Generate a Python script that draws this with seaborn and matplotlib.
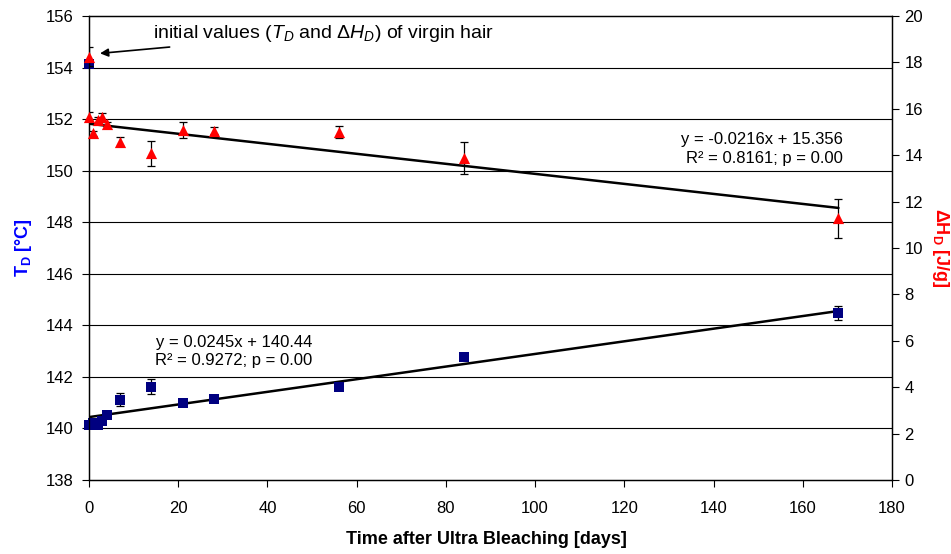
import numpy as np
import pandas as pd
import matplotlib
matplotlib.use("Agg")
import matplotlib.pyplot as plt
import seaborn as sns

# ---- data ----
days = [0, 1, 2, 3, 4, 7, 14, 21, 28, 56, 84, 168]
td_values = [140.15, 140.2, 140.15, 140.3, 140.52, 141.12, 141.62, 141.0, 141.15, 141.59, 142.78, 144.48]
td_errors = [0.05, 0.05, 0.05, 0.05, 0.06, 0.25, 0.3, 0.05, 0.05, 0.05, 0.12, 0.27]
dh_values = [15.66, 14.94, 15.52, 15.63, 15.34, 14.58, 14.08, 15.09, 15.06, 15.01, 13.87, 11.28]
dh_errors = [0.2, 0.1, 0.12, 0.2, 0.1, 0.2, 0.54, 0.35, 0.15, 0.27, 0.7, 0.83]
virgin_day = [0]
virgin_td = [154.15]
virgin_td_err = [0.05]
virgin_dh = [18.25]
virgin_dh_err = [0.4]
td_fit = [0.0245, 140.44]    # slope, intercept
dh_fit = [-0.0216, 15.356]
fit_x = [0, 168]
x_ticks = [0, 20, 40, 60, 80, 100, 120, 140, 160, 180]
td_ticks = [138, 140, 142, 144, 146, 148, 150, 152, 154, 156]
dh_ticks = [0, 2, 4, 6, 8, 10, 12, 14, 16, 18, 20]

sns.set_theme(style="ticks")
plt.rcParams['font.family'] = ['Liberation Sans', 'DejaVu Sans']
plt.rcParams['mathtext.fontset'] = 'custom'
plt.rcParams['mathtext.rm'] = 'Liberation Sans'
plt.rcParams['mathtext.it'] = 'Liberation Sans:italic'
plt.rcParams['mathtext.bf'] = 'Liberation Sans:bold'
plt.rcParams['text.color'] = 'black'
plt.rcParams['axes.labelcolor'] = 'black'

fig = plt.figure(figsize=(9.51, 5.54), dpi=100)
ax = fig.add_axes([89/951, 1-480/554, (892-89)/951, (480-16)/554])
ax2 = ax.twinx()

navy = '#000080'
red = '#FF0000'

# gridlines from left axis
for t in td_ticks[1:-1]:
    ax.axhline(t, color='black', lw=0.8, zorder=0)

df_td = pd.DataFrame({'day': days + virgin_day, 'val': td_values + virgin_td,
                      'err': td_errors + virgin_td_err})
df_dh = pd.DataFrame({'day': days + virgin_day, 'val': dh_values + virgin_dh,
                      'err': dh_errors + virgin_dh_err})

fx = np.array(fit_x, dtype=float)

# T_D
ax.errorbar(df_td['day'], df_td['val'], yerr=df_td['err'], fmt='none',
            ecolor='black', elinewidth=0.9, capsize=3, capthick=0.9, zorder=2)
sns.lineplot(x=fx, y=td_fit[0]*fx + td_fit[1], ax=ax, color='black', lw=1.8, zorder=3)
sns.scatterplot(data=df_td, x='day', y='val', ax=ax, marker='s', s=50, color=navy,
                edgecolor=navy, linewidth=0, zorder=4, clip_on=False)

# Delta H
ax2.errorbar(df_dh['day'], df_dh['val'], yerr=df_dh['err'], fmt='none',
             ecolor='black', elinewidth=0.9, capsize=3, capthick=0.9, zorder=2)
sns.lineplot(x=fx, y=dh_fit[0]*fx + dh_fit[1], ax=ax2, color='black', lw=1.8, zorder=3)
sns.scatterplot(data=df_dh, x='day', y='val', ax=ax2, marker='^', s=65, color=red,
                edgecolor=red, linewidth=0, zorder=4, clip_on=False)

ax.set_xlim(0, 180)
ax.set_ylim(138, 156)
ax2.set_ylim(0, 20)
ax.set_xticks(x_ticks)
ax.set_yticks(td_ticks)
ax2.set_yticks(dh_ticks)
for a in (ax, ax2):
    a.tick_params(labelsize=12, length=5, width=0.8, colors='black', direction='out')
    for s in a.spines.values():
        s.set_color('black')
        s.set_linewidth(0.9)
ax.tick_params(axis='y', pad=6)
ax2.tick_params(axis='y', pad=4)
ax.tick_params(axis='x', pad=10)
ax.set_xlabel('')
ax.set_ylabel('')
ax2.set_ylabel('')

fig.text(486/951, 1-540/554, 'Time after Ultra Bleaching [days]', fontsize=13,
         fontweight='bold', ha='center', va='center')
fig.text(24/951, 1-248/554, r'T$_\mathbf{D}$ [°C]', fontsize=13, fontweight='bold',
         color='#0000FF', rotation=90, ha='center', va='center')
fig.text(940/951, 1-248/554, r'ΔH$_\mathbf{D}$ [J/g]', fontsize=13, fontweight='bold',
         color=red, rotation=-90, ha='center', va='center')

# annotations
ax.annotate(r'initial values ($T_D$ and $\mathit{\Delta H_D}$) of virgin hair',
            xy=(2.47, 154.55), xytext=(14.4, 155.34), fontsize=14,
            ha='left', va='center',
            arrowprops=dict(arrowstyle='-|>', color='black', lw=1.2,
                            shrinkA=2, shrinkB=0, mutation_scale=12))
ax.text(32.5, 142.98, 'y = 0.0245x + 140.44\nR² = 0.9272; p = 0.00', fontsize=12,
        ha='center', va='center', linespacing=1.3)
ax2.text(169.1, 14.28, 'y = -0.0216x + 15.356\nR² = 0.8161; p = 0.00', fontsize=12,
         ha='right', va='center', linespacing=1.3)

fig.savefig('out.png', dpi=100)
